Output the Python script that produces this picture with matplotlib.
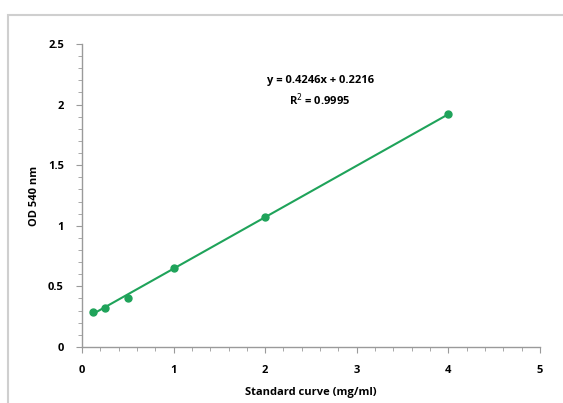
import matplotlib
matplotlib.use("Agg")
import matplotlib.pyplot as plt
from matplotlib.patches import Rectangle
from matplotlib.ticker import MultipleLocator

conc = [0.125, 0.25, 0.5, 1, 2, 4]
od = [0.29, 0.32, 0.40, 0.65, 1.07, 1.92]
slope = 0.4246
intercept = 0.2216

green = "#1fa35a"
axis_gray = "#9a9a9a"

plt.rcParams["font.family"] = ["Open Sans", "DejaVu Sans"]

fig = plt.figure(figsize=(5.63, 4.03), dpi=100)
ax = fig.add_axes([0.1456, 0.139, 0.8134, 0.752])

# outer chart border
fig.patches.append(Rectangle((8 / 563, -0.1), 1.2, 1.1 + (1 - 15 / 403) - 1 + 0.0,
                             transform=fig.transFigure, fill=False,
                             edgecolor="#cfcfcf", linewidth=1.5))

fit_x = [conc[0], conc[-1]]
fit_y = [slope * v + intercept for v in fit_x]
ax.plot(fit_x, fit_y, color=green, linewidth=1.5)
ax.plot(conc, od, "o", color=green, markersize=5)

ax.set_xlim(0, 5)
ax.set_ylim(0, 2.5)
ax.xaxis.set_major_locator(MultipleLocator(1))
ax.xaxis.set_minor_locator(MultipleLocator(0.2))
ax.yaxis.set_major_locator(MultipleLocator(0.5))
ax.yaxis.set_minor_locator(MultipleLocator(0.1))
ax.yaxis.set_major_formatter(matplotlib.ticker.FuncFormatter(lambda v, p: f"{v:g}"))

for s in ["top", "right"]:
    ax.spines[s].set_visible(False)
for s in ["left", "bottom"]:
    ax.spines[s].set_color(axis_gray)
    ax.spines[s].set_linewidth(1.0)

ax.tick_params(axis="both", which="both", direction="out", colors=axis_gray,
               labelcolor="black", labelsize=8)
ax.tick_params(which="major", length=4)
ax.tick_params(which="minor", length=3)
ax.tick_params(axis="x", pad=9)
ax.tick_params(axis="y", pad=9)
for lab in ax.get_xticklabels() + ax.get_yticklabels():
    lab.set_fontweight("bold")

ax.set_xlabel("Standard curve (mg/ml)", fontsize=8, fontweight="bold", labelpad=8)
ax.set_ylabel("OD 540 nm", fontsize=8, fontweight="bold", labelpad=6)

ax.text(2.6, 2.2, f"y = {slope}x + {intercept}", ha="center", va="center",
        fontsize=8, fontweight="bold")
ax.text(2.6, 2.04, f"R$^2$ = 0.9995", ha="center", va="center",
        fontsize=8, fontweight="bold")

fig.savefig("out.png", dpi=100)
